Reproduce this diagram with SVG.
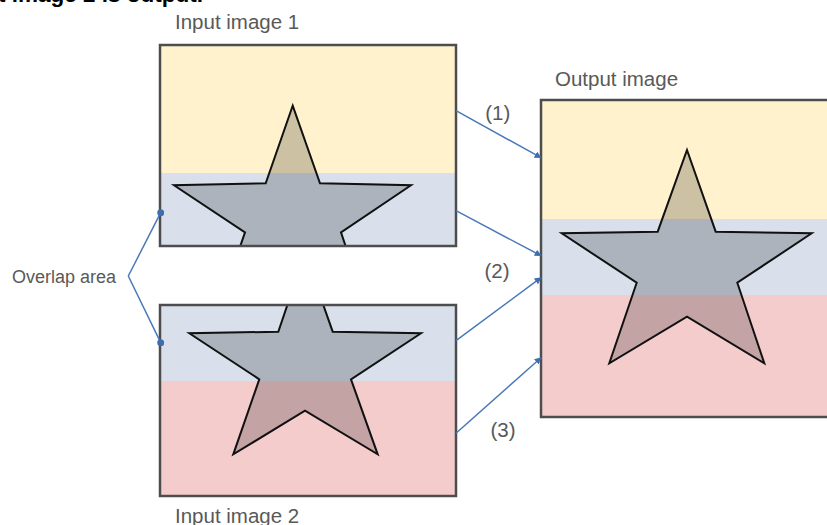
<svg xmlns="http://www.w3.org/2000/svg" width="827" height="525" viewBox="0 0 827 525">
<style>
.lbl{font-family:"Liberation Sans",Arial,sans-serif;fill:#595959;font-size:20.5px}
.box{fill:none;stroke:#4d4d4d;stroke-width:2.5}
.star{fill:#000;fill-opacity:0.2;stroke:#111;stroke-width:2;stroke-linejoin:miter}
.yel{fill:#fff2cc}.blu{fill:#d9e0ec}.pnk{fill:#f4cccc}
.con{fill:none;stroke:#4a78b8;stroke-width:1.5}
</style>
<defs>
<marker id="arr" viewBox="0 0 10 10" refX="9" refY="5" markerWidth="7" markerHeight="7" markerUnits="userSpaceOnUse" orient="auto"><path d="M0,0 L10,5 L0,10 z" fill="#3d6fb0"/></marker>
<marker id="dot" viewBox="0 0 10 10" refX="5" refY="5" markerWidth="7" markerHeight="7" markerUnits="userSpaceOnUse"><circle cx="5" cy="5" r="5" fill="#3d6fb0"/></marker>
<clipPath id="c1"><rect x="160" y="45" width="296" height="201"/></clipPath>
<clipPath id="c2"><rect x="160" y="305" width="296" height="191"/></clipPath>
</defs>
<text x="-2" y="2" style="font-family:'Liberation Sans',Arial,sans-serif;font-size:22.5px;font-weight:bold;fill:#000">t image 2 is output.</text>
<g id="input1">
<rect class="yel" x="160" y="45" width="296" height="128"/>
<rect class="blu" x="160" y="173" width="296" height="73"/>
<polygon class="star" clip-path="url(#c1)" points="292.7,105.7 320,183.3 411,185.3 341,232.3 366.5,308.8 292.7,264.5 218.9,308.8 245,232.3 174,185.3 265.7,183.3"/>
<rect class="box" x="160" y="45" width="296" height="201"/>
<text class="lbl" x="175" y="29">Input image 1</text>
</g>
<g id="input2">
<rect class="blu" x="160" y="305" width="296" height="76"/>
<rect class="pnk" x="160" y="381" width="296" height="115"/>
<polygon class="star" clip-path="url(#c2)" points="305,253 332.7,331.7 421,333.3 351,379.3 377.7,454.3 305,410.7 233.3,454.3 259.3,379.3 189.3,333.3 278.3,331.7"/>
<rect class="box" x="160" y="305" width="296" height="191"/>
<text class="lbl" x="175" y="523">Input image 2</text>
</g>
<g id="output">
<rect class="yel" x="541" y="100" width="300" height="119"/>
<rect class="blu" x="541" y="219" width="300" height="76"/>
<rect class="pnk" x="541" y="295" width="300" height="122"/>
<polygon class="star" points="687,150 715.7,231.7 811.7,233.3 737.3,282.7 764.3,363.3 687,316.7 609.3,363.3 636.7,282.7 561.7,233.3 657.7,231.7"/>
<rect class="box" x="541" y="100" width="300" height="317"/>
<text class="lbl" x="555" y="86">Output image</text>
</g>
<g id="overlap-label">
<text class="lbl" x="12" y="283" style="font-size:18px">Overlap area</text>
</g>
<g id="connectors">
<path class="con" marker-end="url(#dot)" d="M128.3,276 L160.7,212.7"/>
<path class="con" marker-end="url(#dot)" d="M128.3,276 L160.7,342.7"/>
<path class="con" marker-end="url(#arr)" d="M456,110.7 L541,157.7"/>
<path class="con" marker-end="url(#arr)" d="M456,210.7 L541,255.7"/>
<path class="con" marker-end="url(#arr)" d="M456,340.7 L541,277.7"/>
<path class="con" marker-end="url(#arr)" d="M456,433.3 L541,357.7"/>
<text class="lbl" x="497.7" y="120" text-anchor="middle">(1)</text>
<text class="lbl" x="497" y="278" text-anchor="middle">(2)</text>
<text class="lbl" x="503" y="437" text-anchor="middle">(3)</text>
</g>
</svg>
